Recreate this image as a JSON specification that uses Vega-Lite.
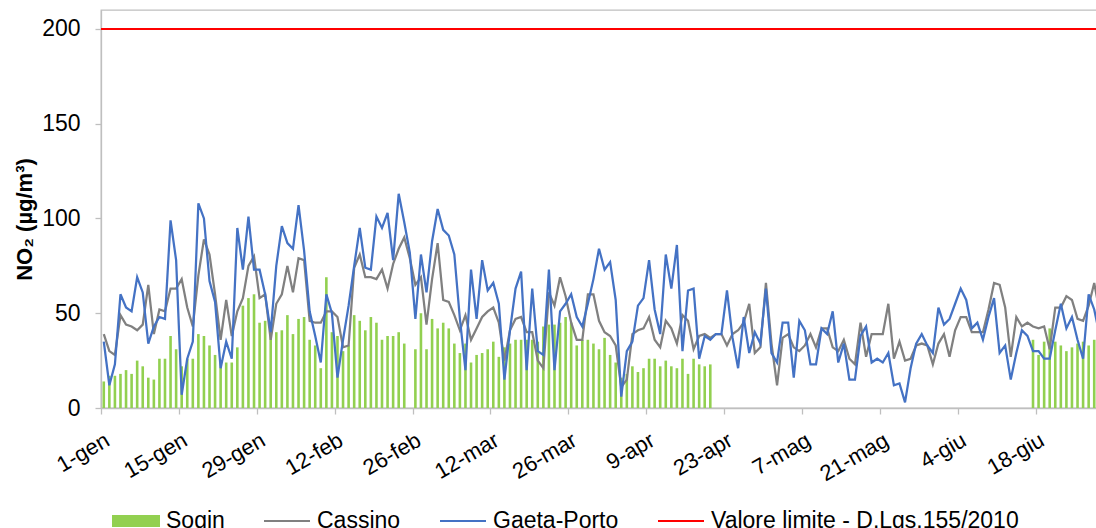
{
  "$schema": "https://vega.github.io/schema/vega-lite/v6.json",
  "width": 996,
  "height": 398,
  "autosize": {"type": "none"},
  "padding": {"left": 101, "top": 10, "right": 0, "bottom": 120},
  "background": "white",
  "config": {
    "font": "Liberation Sans",
    "view": {"stroke": "#bfbfbf", "strokeWidth": 1.3},
    "axisX": {"domainColor": "#bfbfbf", "domainWidth": 1.3, "tickColor": "#bfbfbf", "tickWidth": 1.3, "tickSize": 6, "labelAngle": -30, "labelAlign": "right", "labelBaseline": "middle", "labelPadding": 24, "labelOffset": 6, "labelFontSize": 22, "labelColor": "#000000", "grid": false, "labelOverlap": false, "labelFlush": false, "labelBound": false},
    "axisY": {"domainColor": "#bfbfbf", "domainWidth": 1.3, "tickColor": "#bfbfbf", "tickWidth": 1.3, "tickSize": 6, "labelPadding": 15, "labelFontSize": 23, "labelColor": "#000000", "grid": false, "titleFontSize": 22, "titleFontWeight": "bold", "titleColor": "#000000", "titleX": -77, "titleY": 209, "titleAngle": -90, "titleAlign": "center", "titleBaseline": "middle"}
  },
  "data": {"values": [
    {"date": "2019-01-01", "Sogin": 14, "Cassino": 39, "Gaeta-Porto": 35},
    {"date": "2019-01-02", "Sogin": 17, "Cassino": 30, "Gaeta-Porto": 12},
    {"date": "2019-01-03", "Sogin": 17, "Cassino": 28, "Gaeta-Porto": 23},
    {"date": "2019-01-04", "Sogin": 18, "Cassino": 49, "Gaeta-Porto": 60},
    {"date": "2019-01-05", "Sogin": 20, "Cassino": 44, "Gaeta-Porto": 53},
    {"date": "2019-01-06", "Sogin": 18, "Cassino": 43, "Gaeta-Porto": 51},
    {"date": "2019-01-07", "Sogin": 25, "Cassino": 41, "Gaeta-Porto": 69},
    {"date": "2019-01-08", "Sogin": 22, "Cassino": 44, "Gaeta-Porto": 61},
    {"date": "2019-01-09", "Sogin": 16, "Cassino": 65, "Gaeta-Porto": 34},
    {"date": "2019-01-10", "Sogin": 15, "Cassino": 39, "Gaeta-Porto": 43},
    {"date": "2019-01-11", "Sogin": 26, "Cassino": 52, "Gaeta-Porto": 48},
    {"date": "2019-01-12", "Sogin": 26, "Cassino": 51, "Gaeta-Porto": 47},
    {"date": "2019-01-13", "Sogin": 38, "Cassino": 63, "Gaeta-Porto": 99},
    {"date": "2019-01-14", "Sogin": 31, "Cassino": 63, "Gaeta-Porto": 78},
    {"date": "2019-01-15", "Sogin": 22, "Cassino": 68, "Gaeta-Porto": 7},
    {"date": "2019-01-16", "Sogin": 26, "Cassino": 53, "Gaeta-Porto": 26},
    {"date": "2019-01-17", "Sogin": 26, "Cassino": 43, "Gaeta-Porto": 35},
    {"date": "2019-01-18", "Sogin": 39, "Cassino": 70, "Gaeta-Porto": 108},
    {"date": "2019-01-19", "Sogin": 38, "Cassino": 89, "Gaeta-Porto": 100},
    {"date": "2019-01-20", "Sogin": 33, "Cassino": 81, "Gaeta-Porto": 67},
    {"date": "2019-01-21", "Sogin": 28, "Cassino": 60, "Gaeta-Porto": 56},
    {"date": "2019-01-22", "Sogin": 24, "Cassino": 36, "Gaeta-Porto": 21},
    {"date": "2019-01-23", "Sogin": 24, "Cassino": 57, "Gaeta-Porto": 35},
    {"date": "2019-01-24", "Sogin": 24, "Cassino": 38, "Gaeta-Porto": 26},
    {"date": "2019-01-25", "Sogin": 32, "Cassino": 51, "Gaeta-Porto": 95},
    {"date": "2019-01-26", "Sogin": 54, "Cassino": 58, "Gaeta-Porto": 73},
    {"date": "2019-01-27", "Sogin": 58, "Cassino": 75, "Gaeta-Porto": 101},
    {"date": "2019-01-28", "Sogin": 60, "Cassino": 80, "Gaeta-Porto": 73},
    {"date": "2019-01-29", "Sogin": 45, "Cassino": 58, "Gaeta-Porto": 73},
    {"date": "2019-01-30", "Sogin": 46, "Cassino": 60, "Gaeta-Porto": 60},
    {"date": "2019-01-31", "Sogin": 41, "Cassino": 36, "Gaeta-Porto": 40},
    {"date": "2019-02-01", "Sogin": 40, "Cassino": 55, "Gaeta-Porto": 75},
    {"date": "2019-02-02", "Sogin": 41, "Cassino": 60, "Gaeta-Porto": 96},
    {"date": "2019-02-03", "Sogin": 49, "Cassino": 75, "Gaeta-Porto": 87},
    {"date": "2019-02-04", "Sogin": 39, "Cassino": 61, "Gaeta-Porto": 84},
    {"date": "2019-02-05", "Sogin": 47, "Cassino": 79, "Gaeta-Porto": 107},
    {"date": "2019-02-06", "Sogin": 48, "Cassino": 78, "Gaeta-Porto": 83},
    {"date": "2019-02-07", "Sogin": 36, "Cassino": 46, "Gaeta-Porto": 51},
    {"date": "2019-02-08", "Sogin": 33, "Cassino": 45, "Gaeta-Porto": 38},
    {"date": "2019-02-09", "Sogin": 21, "Cassino": 45, "Gaeta-Porto": 24},
    {"date": "2019-02-10", "Sogin": 69, "Cassino": 51, "Gaeta-Porto": 60},
    {"date": "2019-02-11", "Sogin": 40, "Cassino": 51, "Gaeta-Porto": 50},
    {"date": "2019-02-12", "Sogin": 38, "Cassino": 48, "Gaeta-Porto": 16},
    {"date": "2019-02-13", "Sogin": 30, "Cassino": 32, "Gaeta-Porto": 36},
    {"date": "2019-02-14", "Sogin": 33, "Cassino": 33, "Gaeta-Porto": 54},
    {"date": "2019-02-15", "Sogin": 49, "Cassino": 74, "Gaeta-Porto": 75},
    {"date": "2019-02-16", "Sogin": 46, "Cassino": 81, "Gaeta-Porto": 95},
    {"date": "2019-02-17", "Sogin": 41, "Cassino": 69, "Gaeta-Porto": 74},
    {"date": "2019-02-18", "Sogin": 48, "Cassino": 69, "Gaeta-Porto": 73},
    {"date": "2019-02-19", "Sogin": 45, "Cassino": 68, "Gaeta-Porto": 101},
    {"date": "2019-02-20", "Sogin": 36, "Cassino": 73, "Gaeta-Porto": 95},
    {"date": "2019-02-21", "Sogin": 38, "Cassino": 63, "Gaeta-Porto": 103},
    {"date": "2019-02-22", "Sogin": 38, "Cassino": 76, "Gaeta-Porto": 78},
    {"date": "2019-02-23", "Sogin": 40, "Cassino": 84, "Gaeta-Porto": 113},
    {"date": "2019-02-24", "Sogin": 34, "Cassino": 90, "Gaeta-Porto": 98},
    {"date": "2019-02-25", "Sogin": null, "Cassino": 79, "Gaeta-Porto": 82},
    {"date": "2019-02-26", "Sogin": 31, "Cassino": 65, "Gaeta-Porto": 47},
    {"date": "2019-02-27", "Sogin": 50, "Cassino": 69, "Gaeta-Porto": 81},
    {"date": "2019-02-28", "Sogin": 31, "Cassino": 44, "Gaeta-Porto": 61},
    {"date": "2019-03-01", "Sogin": 47, "Cassino": 68, "Gaeta-Porto": 88},
    {"date": "2019-03-02", "Sogin": 42, "Cassino": 87, "Gaeta-Porto": 105},
    {"date": "2019-03-03", "Sogin": 45, "Cassino": 57, "Gaeta-Porto": 94},
    {"date": "2019-03-04", "Sogin": 42, "Cassino": 56, "Gaeta-Porto": 91},
    {"date": "2019-03-05", "Sogin": 34, "Cassino": 49, "Gaeta-Porto": 81},
    {"date": "2019-03-06", "Sogin": 29, "Cassino": 41, "Gaeta-Porto": 47},
    {"date": "2019-03-07", "Sogin": 34, "Cassino": 49, "Gaeta-Porto": 20},
    {"date": "2019-03-08", "Sogin": 24, "Cassino": 36, "Gaeta-Porto": 73},
    {"date": "2019-03-09", "Sogin": 28, "Cassino": 42, "Gaeta-Porto": 47},
    {"date": "2019-03-10", "Sogin": 29, "Cassino": 48, "Gaeta-Porto": 78},
    {"date": "2019-03-11", "Sogin": 31, "Cassino": 51, "Gaeta-Porto": 62},
    {"date": "2019-03-12", "Sogin": 35, "Cassino": 53, "Gaeta-Porto": 66},
    {"date": "2019-03-13", "Sogin": 27, "Cassino": 45, "Gaeta-Porto": 55},
    {"date": "2019-03-14", "Sogin": 32, "Cassino": 25, "Gaeta-Porto": 15},
    {"date": "2019-03-15", "Sogin": 34, "Cassino": 41, "Gaeta-Porto": 41},
    {"date": "2019-03-16", "Sogin": 36, "Cassino": 47, "Gaeta-Porto": 63},
    {"date": "2019-03-17", "Sogin": 36, "Cassino": 48, "Gaeta-Porto": 72},
    {"date": "2019-03-18", "Sogin": 36, "Cassino": 40, "Gaeta-Porto": 20},
    {"date": "2019-03-19", "Sogin": 36, "Cassino": 40, "Gaeta-Porto": 63},
    {"date": "2019-03-20", "Sogin": 35, "Cassino": 25, "Gaeta-Porto": 30},
    {"date": "2019-03-21", "Sogin": 43, "Cassino": 21, "Gaeta-Porto": 28},
    {"date": "2019-03-22", "Sogin": 44, "Cassino": 61, "Gaeta-Porto": 73},
    {"date": "2019-03-23", "Sogin": 44, "Cassino": 54, "Gaeta-Porto": 20},
    {"date": "2019-03-24", "Sogin": 45, "Cassino": 69, "Gaeta-Porto": 51},
    {"date": "2019-03-25", "Sogin": 48, "Cassino": 59, "Gaeta-Porto": 55},
    {"date": "2019-03-26", "Sogin": 45, "Cassino": 45, "Gaeta-Porto": 60},
    {"date": "2019-03-27", "Sogin": 33, "Cassino": 36, "Gaeta-Porto": 48},
    {"date": "2019-03-28", "Sogin": 36, "Cassino": 36, "Gaeta-Porto": 43},
    {"date": "2019-03-29", "Sogin": 36, "Cassino": 60, "Gaeta-Porto": 55},
    {"date": "2019-03-30", "Sogin": 34, "Cassino": 60, "Gaeta-Porto": 68},
    {"date": "2019-03-31", "Sogin": 31, "Cassino": 46, "Gaeta-Porto": 84},
    {"date": "2019-04-01", "Sogin": 37, "Cassino": 40, "Gaeta-Porto": 73},
    {"date": "2019-04-02", "Sogin": 28, "Cassino": 38, "Gaeta-Porto": 77},
    {"date": "2019-04-03", "Sogin": 24, "Cassino": 33, "Gaeta-Porto": 57},
    {"date": "2019-04-04", "Sogin": 16, "Cassino": 11, "Gaeta-Porto": 6},
    {"date": "2019-04-05", "Sogin": 18, "Cassino": 15, "Gaeta-Porto": 30},
    {"date": "2019-04-06", "Sogin": 22, "Cassino": 39, "Gaeta-Porto": 35},
    {"date": "2019-04-07", "Sogin": 19, "Cassino": 41, "Gaeta-Porto": 54},
    {"date": "2019-04-08", "Sogin": 21, "Cassino": 42, "Gaeta-Porto": 58},
    {"date": "2019-04-09", "Sogin": 26, "Cassino": 48, "Gaeta-Porto": 78},
    {"date": "2019-04-10", "Sogin": 26, "Cassino": 36, "Gaeta-Porto": 52},
    {"date": "2019-04-11", "Sogin": 22, "Cassino": 32, "Gaeta-Porto": 39},
    {"date": "2019-04-12", "Sogin": 25, "Cassino": 46, "Gaeta-Porto": 81},
    {"date": "2019-04-13", "Sogin": 22, "Cassino": 42, "Gaeta-Porto": 63},
    {"date": "2019-04-14", "Sogin": 21, "Cassino": 34, "Gaeta-Porto": 86},
    {"date": "2019-04-15", "Sogin": 26, "Cassino": 49, "Gaeta-Porto": 30},
    {"date": "2019-04-16", "Sogin": 18, "Cassino": 46, "Gaeta-Porto": 62},
    {"date": "2019-04-17", "Sogin": 26, "Cassino": 31, "Gaeta-Porto": 63},
    {"date": "2019-04-18", "Sogin": 23, "Cassino": 38, "Gaeta-Porto": 26},
    {"date": "2019-04-19", "Sogin": 22, "Cassino": 39, "Gaeta-Porto": 38},
    {"date": "2019-04-20", "Sogin": 23, "Cassino": 37, "Gaeta-Porto": 36},
    {"date": "2019-04-21", "Sogin": null, "Cassino": 39, "Gaeta-Porto": 39},
    {"date": "2019-04-22", "Sogin": null, "Cassino": 39, "Gaeta-Porto": 39},
    {"date": "2019-04-23", "Sogin": null, "Cassino": 33, "Gaeta-Porto": 62},
    {"date": "2019-04-24", "Sogin": null, "Cassino": 39, "Gaeta-Porto": 37},
    {"date": "2019-04-25", "Sogin": null, "Cassino": 41, "Gaeta-Porto": 21},
    {"date": "2019-04-26", "Sogin": null, "Cassino": 45, "Gaeta-Porto": 48},
    {"date": "2019-04-27", "Sogin": null, "Cassino": 55, "Gaeta-Porto": 29},
    {"date": "2019-04-28", "Sogin": null, "Cassino": 29, "Gaeta-Porto": 40},
    {"date": "2019-04-29", "Sogin": null, "Cassino": 32, "Gaeta-Porto": 34},
    {"date": "2019-04-30", "Sogin": null, "Cassino": 66, "Gaeta-Porto": 63},
    {"date": "2019-05-01", "Sogin": null, "Cassino": 34, "Gaeta-Porto": 29},
    {"date": "2019-05-02", "Sogin": null, "Cassino": 12, "Gaeta-Porto": 24},
    {"date": "2019-05-03", "Sogin": null, "Cassino": 37, "Gaeta-Porto": 45},
    {"date": "2019-05-04", "Sogin": null, "Cassino": 39, "Gaeta-Porto": 45},
    {"date": "2019-05-05", "Sogin": null, "Cassino": 32, "Gaeta-Porto": 16},
    {"date": "2019-05-06", "Sogin": null, "Cassino": 30, "Gaeta-Porto": 46},
    {"date": "2019-05-07", "Sogin": null, "Cassino": 33, "Gaeta-Porto": 41},
    {"date": "2019-05-08", "Sogin": null, "Cassino": 39, "Gaeta-Porto": 23},
    {"date": "2019-05-09", "Sogin": null, "Cassino": 32, "Gaeta-Porto": 23},
    {"date": "2019-05-10", "Sogin": null, "Cassino": 42, "Gaeta-Porto": 42},
    {"date": "2019-05-11", "Sogin": null, "Cassino": 42, "Gaeta-Porto": 39},
    {"date": "2019-05-12", "Sogin": null, "Cassino": 32, "Gaeta-Porto": 51},
    {"date": "2019-05-13", "Sogin": null, "Cassino": 30, "Gaeta-Porto": 24},
    {"date": "2019-05-14", "Sogin": null, "Cassino": 36, "Gaeta-Porto": 34},
    {"date": "2019-05-15", "Sogin": null, "Cassino": 26, "Gaeta-Porto": 15},
    {"date": "2019-05-16", "Sogin": null, "Cassino": 23, "Gaeta-Porto": 15},
    {"date": "2019-05-17", "Sogin": null, "Cassino": 45, "Gaeta-Porto": 38},
    {"date": "2019-05-18", "Sogin": null, "Cassino": 27, "Gaeta-Porto": 43},
    {"date": "2019-05-19", "Sogin": null, "Cassino": 39, "Gaeta-Porto": 24},
    {"date": "2019-05-20", "Sogin": null, "Cassino": 39, "Gaeta-Porto": 26},
    {"date": "2019-05-21", "Sogin": null, "Cassino": 39, "Gaeta-Porto": 24},
    {"date": "2019-05-22", "Sogin": null, "Cassino": 55, "Gaeta-Porto": 29},
    {"date": "2019-05-23", "Sogin": null, "Cassino": 26, "Gaeta-Porto": 12},
    {"date": "2019-05-24", "Sogin": null, "Cassino": 35, "Gaeta-Porto": 13},
    {"date": "2019-05-25", "Sogin": null, "Cassino": 25, "Gaeta-Porto": 3},
    {"date": "2019-05-26", "Sogin": null, "Cassino": 26, "Gaeta-Porto": 21},
    {"date": "2019-05-27", "Sogin": null, "Cassino": 33, "Gaeta-Porto": 34},
    {"date": "2019-05-28", "Sogin": null, "Cassino": 34, "Gaeta-Porto": 39},
    {"date": "2019-05-29", "Sogin": null, "Cassino": 33, "Gaeta-Porto": 33},
    {"date": "2019-05-30", "Sogin": null, "Cassino": 23, "Gaeta-Porto": 29},
    {"date": "2019-05-31", "Sogin": null, "Cassino": 34, "Gaeta-Porto": 53},
    {"date": "2019-06-01", "Sogin": null, "Cassino": 39, "Gaeta-Porto": 44},
    {"date": "2019-06-02", "Sogin": null, "Cassino": 27, "Gaeta-Porto": 47},
    {"date": "2019-06-03", "Sogin": null, "Cassino": 41, "Gaeta-Porto": 55},
    {"date": "2019-06-04", "Sogin": null, "Cassino": 48, "Gaeta-Porto": 63},
    {"date": "2019-06-05", "Sogin": null, "Cassino": 48, "Gaeta-Porto": 57},
    {"date": "2019-06-06", "Sogin": null, "Cassino": 40, "Gaeta-Porto": 42},
    {"date": "2019-06-07", "Sogin": null, "Cassino": 40, "Gaeta-Porto": 45},
    {"date": "2019-06-08", "Sogin": null, "Cassino": 40, "Gaeta-Porto": 36},
    {"date": "2019-06-09", "Sogin": null, "Cassino": 52, "Gaeta-Porto": 48},
    {"date": "2019-06-10", "Sogin": null, "Cassino": 66, "Gaeta-Porto": 58},
    {"date": "2019-06-11", "Sogin": null, "Cassino": 65, "Gaeta-Porto": 29},
    {"date": "2019-06-12", "Sogin": null, "Cassino": 53, "Gaeta-Porto": 33},
    {"date": "2019-06-13", "Sogin": null, "Cassino": 27, "Gaeta-Porto": 15},
    {"date": "2019-06-14", "Sogin": null, "Cassino": 48, "Gaeta-Porto": 29},
    {"date": "2019-06-15", "Sogin": null, "Cassino": 43, "Gaeta-Porto": 41},
    {"date": "2019-06-16", "Sogin": null, "Cassino": 45, "Gaeta-Porto": 38},
    {"date": "2019-06-17", "Sogin": 36, "Cassino": 43, "Gaeta-Porto": 30},
    {"date": "2019-06-18", "Sogin": 28, "Cassino": 42, "Gaeta-Porto": 30},
    {"date": "2019-06-19", "Sogin": 35, "Cassino": 43, "Gaeta-Porto": 26},
    {"date": "2019-06-20", "Sogin": 42, "Cassino": 31, "Gaeta-Porto": 26},
    {"date": "2019-06-21", "Sogin": 35, "Cassino": 53, "Gaeta-Porto": 41},
    {"date": "2019-06-22", "Sogin": 33, "Cassino": 53, "Gaeta-Porto": 55},
    {"date": "2019-06-23", "Sogin": 30, "Cassino": 59, "Gaeta-Porto": 42},
    {"date": "2019-06-24", "Sogin": 32, "Cassino": 57, "Gaeta-Porto": 48},
    {"date": "2019-06-25", "Sogin": 34, "Cassino": 47, "Gaeta-Porto": 36},
    {"date": "2019-06-26", "Sogin": 35, "Cassino": 46, "Gaeta-Porto": 26},
    {"date": "2019-06-27", "Sogin": 33, "Cassino": 54, "Gaeta-Porto": 60},
    {"date": "2019-06-28", "Sogin": 36, "Cassino": 66, "Gaeta-Porto": 52},
    {"date": "2019-06-29", "Sogin": 37, "Cassino": 50, "Gaeta-Porto": 38}
  ]},
  "layer": [
    {
      "transform": [{"fold": ["Sogin"], "as": ["serie", "valore"]}],
      "mark": {"type": "bar", "width": 2.6, "clip": true},
      "encoding": {
        "x": {"field": "date", "type": "temporal", "timeUnit": "utcyearmonthdate", "bandPosition": 0.5,
          "scale": {"domain": [{"year": 2019, "month": 1, "date": 1, "utc": true}, {"year": 2019, "month": 6, "date": 29, "utc": true}]},
          "axis": {"title": null,
            "values": [{"year": 2019, "month": 1, "date": 1, "utc": true}, {"year": 2019, "month": 1, "date": 15, "utc": true}, {"year": 2019, "month": 1, "date": 29, "utc": true}, {"year": 2019, "month": 2, "date": 12, "utc": true}, {"year": 2019, "month": 2, "date": 26, "utc": true}, {"year": 2019, "month": 3, "date": 12, "utc": true}, {"year": 2019, "month": 3, "date": 26, "utc": true}, {"year": 2019, "month": 4, "date": 9, "utc": true}, {"year": 2019, "month": 4, "date": 23, "utc": true}, {"year": 2019, "month": 5, "date": 7, "utc": true}, {"year": 2019, "month": 5, "date": 21, "utc": true}, {"year": 2019, "month": 6, "date": 4, "utc": true}, {"year": 2019, "month": 6, "date": 18, "utc": true}],
            "labelExpr": "utcdate(datum.value) + '-' + ['gen','feb','mar','apr','mag','giu','lug','ago','set','ott','nov','dic'][utcmonth(datum.value)]"}},
        "y": {"field": "valore", "type": "quantitative", "title": "NO₂ (µg/m³)",
          "scale": {"domain": [0, 210], "nice": false},
          "axis": {"values": [0, 50, 100, 150, 200]}},
        "color": {"field": "serie", "type": "nominal", "title": null,
          "scale": {"domain": ["Sogin", "Cassino", "Gaeta-Porto", "Valore limite - D.Lgs.155/2010"], "range": ["#92D050", "#808080", "#4472C4", "#FF0000"]},
          "legend": {"orient": "none", "legendX": 11, "legendY": 487, "direction": "horizontal", "title": null,
            "labelFontSize": 23, "labelColor": "#000000", "labelOffset": 6, "labelLimit": 0, "columnPadding": 35,
            "symbolSize": 2116, "symbolStrokeWidth": 2, "symbolOpacity": 1,
            "encode": {"symbols": {"update": {
              "shape": {"signal": "datum.value === 'Sogin' ? 'M-1,-0.22H1V0.22H-1Z' : 'M-1,0H1'"},
              "fill": {"signal": "datum.value === 'Sogin' ? '#92D050' : 'transparent'"},
              "stroke": {"signal": "datum.value === 'Sogin' ? 'transparent' : (datum.value === 'Cassino' ? '#808080' : (datum.value === 'Gaeta-Porto' ? '#4472C4' : '#FF0000'))"},
              "strokeWidth": {"value": 2}
            }}}}}
      }
    },
    {
      "transform": [{"fold": ["Cassino", "Gaeta-Porto"], "as": ["serie", "valore"]}],
      "mark": {"type": "line", "strokeWidth": 2.25, "clip": true},
      "encoding": {
        "x": {"field": "date", "type": "temporal", "timeUnit": "utcyearmonthdate", "bandPosition": 0.5},
        "y": {"field": "valore", "type": "quantitative", "title": "NO₂ (µg/m³)"},
        "color": {"field": "serie", "type": "nominal", "title": null}
      }
    },
    {
      "data": {"values": [{"valore": 200, "serie": "Valore limite - D.Lgs.155/2010"}]},
      "mark": {"type": "rule", "strokeWidth": 2},
      "encoding": {
        "y": {"field": "valore", "type": "quantitative", "title": "NO₂ (µg/m³)"},
        "color": {"field": "serie", "type": "nominal", "title": null}
      }
    }
  ]
}
